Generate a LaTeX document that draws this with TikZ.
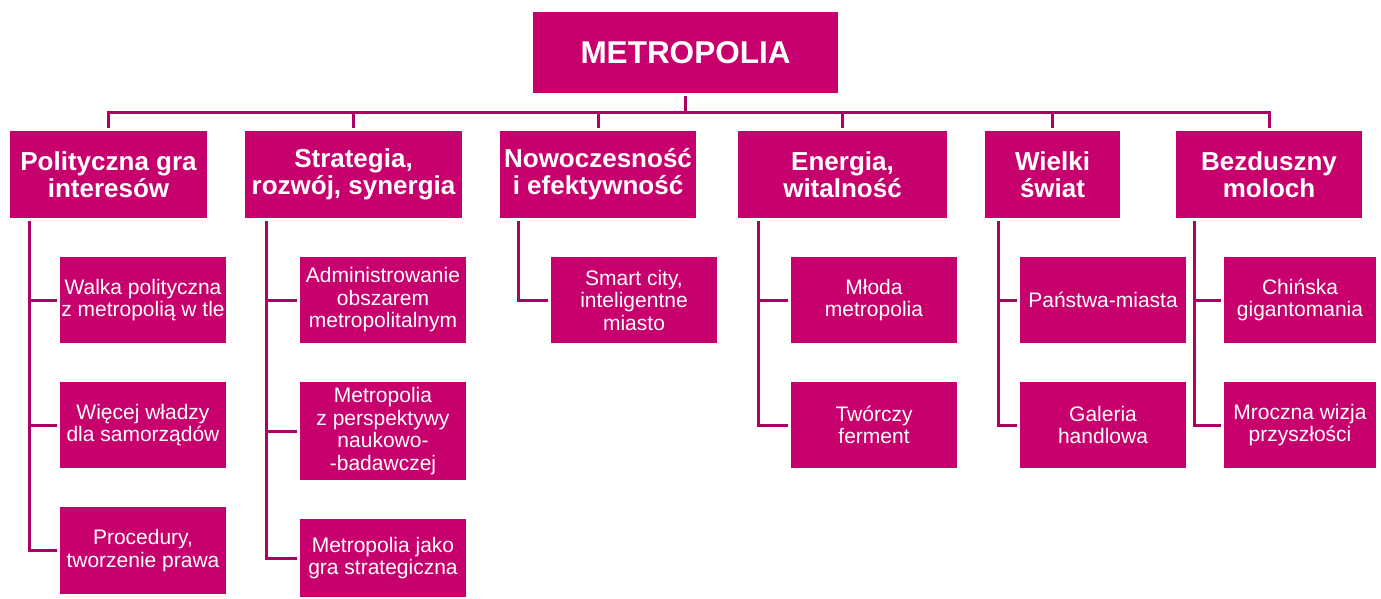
\documentclass[tikz,border=0pt]{standalone}
\usepackage{fontspec}
\setmainfont{Liberation Sans}
\definecolor{boxfill}{RGB}{200,0,110}
\definecolor{linkcol}{RGB}{172,0,98}
\begin{document}
\begin{tikzpicture}[x=1pt,y=-1pt,
  box/.style={rectangle, fill=boxfill, draw=none, inner sep=0pt, text=white, align=center},
  rootbox/.style={box, font=\bfseries\fontsize{31.5}{34}\selectfont},
  topicbox/.style={box, minimum height=87pt, font=\bfseries\fontsize{26}{27}\selectfont},
  itembox/.style={box, minimum width=166pt, font=\fontsize{21}{22.5}\selectfont},
  conn/.style={draw=linkcol, line width=3pt}
]
\useasboundingbox (0,0) rectangle (1381,598);

% root
\node[rootbox, minimum width=305pt, minimum height=81pt] (root) at (685.5,52.5) {METROPOLIA};

% main topics
\node[topicbox, minimum width=197pt] (a) at (108.5,174.5) {Polityczna gra\\interesów};
\node[topicbox, minimum width=217pt] (b) at (353.5,174.5) {Strategia,\\rozwój, synergia};
\node[topicbox, minimum width=196pt] (c) at (598,174.5) {Nowoczesność\\i efektywność};
\node[topicbox, minimum width=209pt] (d) at (842.5,174.5) {Energia,\\witalność};
\node[topicbox, minimum width=135pt] (e) at (1052.5,174.5) {Wielki\\świat};
\node[topicbox, minimum width=186pt] (f) at (1269,174.5) {Bezduszny\\moloch};

% sub-topics
\node[itembox, minimum height=86pt] (a1) at (143,300) {Walka polityczna\\z metropolią w tle};
\node[itembox, minimum height=86pt] (a2) at (143,425) {Więcej władzy\\dla samorządów};
\node[itembox, minimum height=87pt] (a3) at (143,550.5) {Procedury,\\tworzenie prawa};

\node[itembox, minimum height=86pt] (b1) at (383,300) {Administrowanie\\obszarem\\metropolitalnym};
\node[itembox, minimum height=98pt] (b2) at (383,431) {Metropolia\\z perspektywy\\naukowo-\\-badawczej};
\node[itembox, minimum height=78pt] (b3) at (383,558) {Metropolia jako\\gra strategiczna};

\node[itembox, minimum height=86pt] (c1) at (634,300) {Smart city,\\inteligentne\\miasto};

\node[itembox, minimum height=86pt] (d1) at (874,300) {Młoda\\metropolia};
\node[itembox, minimum height=86pt] (d2) at (874,425) {Twórczy\\ferment};

\node[itembox, minimum height=86pt] (e1) at (1103,300) {Państwa-miasta};
\node[itembox, minimum height=86pt] (e2) at (1103,425) {Galeria\\handlowa};

\node[itembox, minimum width=152pt, minimum height=86pt] (f1) at (1300,300) {Chińska\\gigantomania};
\node[itembox, minimum width=152pt, minimum height=86pt] (f2) at (1300,425) {Mroczna wizja\\przyszłości};

% bus from the root to the main topics
\coordinate (bus) at (686.5,112.5);
\draw[conn, shorten <=3pt] (root.south) -- (root.south |- bus);
\draw[conn] ([xshift=-1.5pt]a.north |- bus) -- ([xshift=1.5pt]f.north |- bus);
\foreach \n in {a,b,c,d,e,f}
  \draw[conn, shorten >=3pt] (\n.north |- bus) -- (\n.north);

% stems below each main topic
\coordinate (sa) at (29,221);
\coordinate (sb) at (266,221);
\coordinate (sc) at (518,221);
\coordinate (sd) at (758,221);
\coordinate (se) at (998,221);
\coordinate (sf) at (1194,221);

\foreach \s/\t in {sa/a1,sa/a2,sa/a3,sb/b1,sb/b2,sb/b3,sc/c1,sd/d1,sd/d2,se/e1,se/e2,sf/f1,sf/f2}
  \draw[conn, shorten >=3pt] (\s) |- (\t.west);
\end{tikzpicture}
\end{document}
